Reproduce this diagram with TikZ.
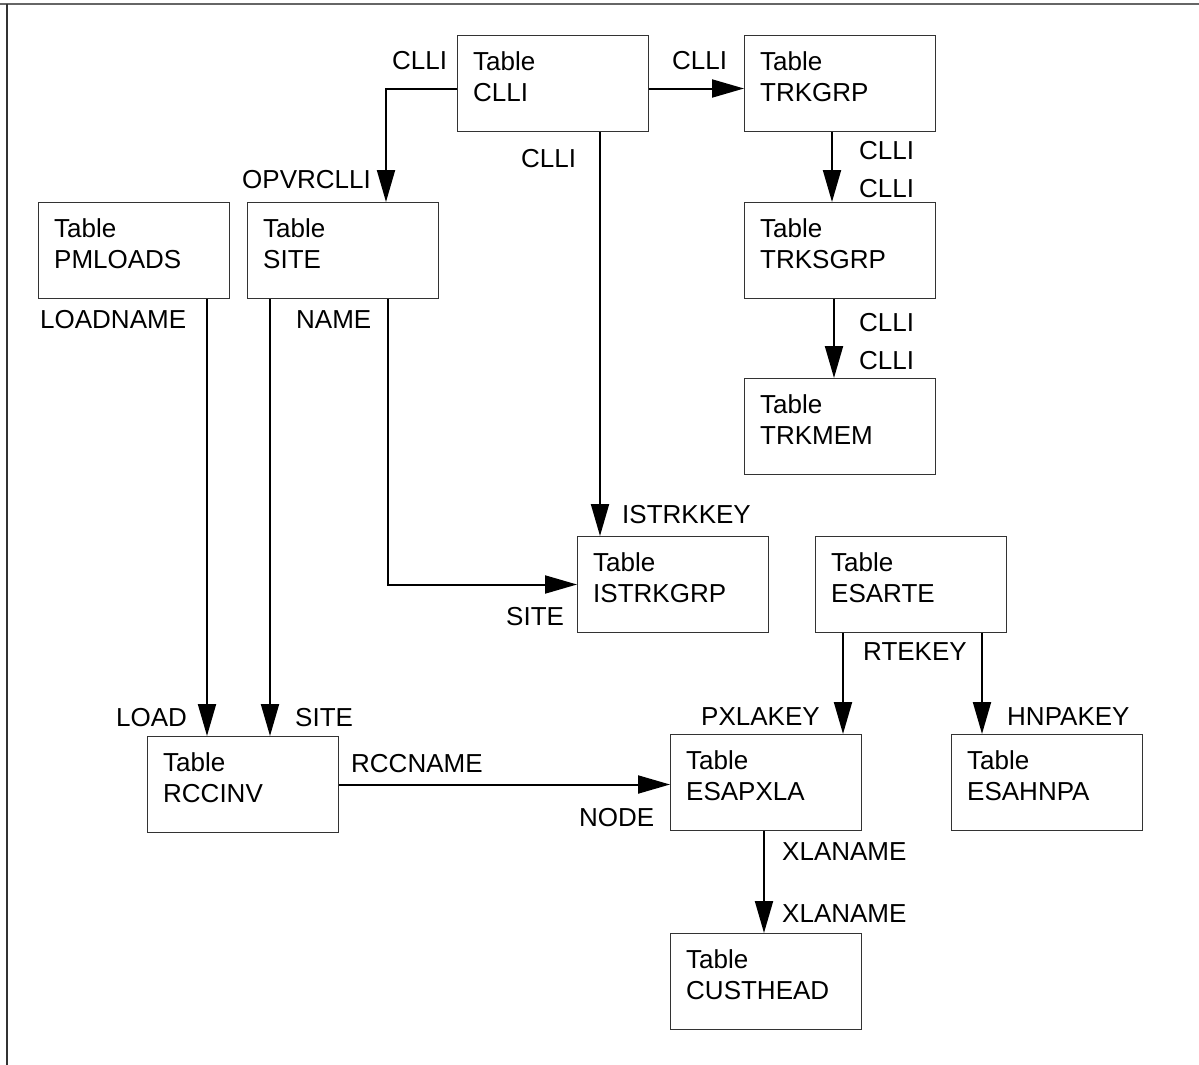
\documentclass[tikz,border=0pt]{standalone}
\usepackage{fontspec}
\setmainfont{Liberation Sans}
\usetikzlibrary{arrows.meta,calc}
\begin{document}
\begin{tikzpicture}[x=1pt,y=-1pt,
  tbox/.style={draw=black!80,line width=1pt,minimum width=191pt,minimum height=96pt,inner sep=0pt,anchor=north west},
  tbtext/.style={font=\fontsize{26}{31}\selectfont,align=left,inner sep=0pt,anchor=north west},
  lbl/.style={font=\fontsize{26}{31}\selectfont,inner sep=0pt,anchor=base west},
  conn/.style={line width=2pt,-{Triangle[length=32pt,width=18pt]}}]
\useasboundingbox (0,0) rectangle (1199,1065);
\draw[black!60,line width=2.5pt] (0,4) -- (1199,4);
\draw[black!80,line width=2pt] (7,4) -- (7,1065);
% boxes
\node[tbox] (clli) at (457,35) {};
\node[tbox] (trkgrp) at (744,35) {};
\node[tbox] (trksgrp) at (744,202) {};
\node[tbox] (trkmem) at (744,378) {};
\node[tbox] (pmloads) at (38,202) {};
\node[tbox] (site) at (247,202) {};
\node[tbox] (istrkgrp) at (577,536) {};
\node[tbox] (esarte) at (815,536) {};
\node[tbox] (rccinv) at (147,736) {};
\node[tbox] (esapxla) at (670,734) {};
\node[tbox] (esahnpa) at (951,734) {};
\node[tbox] (custhead) at (670,933) {};
% box texts
\node[tbtext] (tclli) at ($(clli.north west)+(16,16.5)$) {Table\\CLLI};
\node[tbtext] (ttrkgrp) at ($(trkgrp.north west)+(16,16.5)$) {Table\\TRKGRP};
\node[tbtext] (ttrksgrp) at ($(trksgrp.north west)+(16,16.5)$) {Table\\TRKSGRP};
\node[tbtext] (ttrkmem) at ($(trkmem.north west)+(16,16.5)$) {Table\\TRKMEM};
\node[tbtext] (tpmloads) at ($(pmloads.north west)+(16,16.5)$) {Table\\PMLOADS};
\node[tbtext] (tsite) at ($(site.north west)+(16,16.5)$) {Table\\SITE};
\node[tbtext] (tistrkgrp) at ($(istrkgrp.north west)+(16,16.5)$) {Table\\ISTRKGRP};
\node[tbtext] (tesarte) at ($(esarte.north west)+(16,16.5)$) {Table\\ESARTE};
\node[tbtext] (trccinv) at ($(rccinv.north west)+(16,16.5)$) {Table\\RCCINV};
\node[tbtext] (tesapxla) at ($(esapxla.north west)+(16,16.5)$) {Table\\ESAPXLA};
\node[tbtext] (tesahnpa) at ($(esahnpa.north west)+(16,16.5)$) {Table\\ESAHNPA};
\node[tbtext] (tcusthead) at ($(custhead.north west)+(16,16.5)$) {Table\\CUSTHEAD};
% connectors
\draw[conn] ([yshift=-5]clli.west) -| ([xshift=139]site.north west);
\draw[conn] ([yshift=-5]clli.east) -- ([yshift=-5]trkgrp.west);
\draw[conn] ([xshift=143]clli.south west) -- ([xshift=23]istrkgrp.north west);
\draw[conn] ([xshift=88]trkgrp.south west) -- ([xshift=88]trksgrp.north west);
\draw[conn] ([xshift=90]trksgrp.south west) -- ([xshift=90]trkmem.north west);
\draw[conn] ([xshift=141]site.south west) |- (istrkgrp.west);
\draw[conn] ([xshift=169]pmloads.south west) -- ([xshift=60]rccinv.north west);
\draw[conn] ([xshift=23]site.south west) -- ([xshift=123]rccinv.north west);
\draw[conn] (rccinv.east) -- (rccinv.east -| esapxla.west);
\draw[conn] ([xshift=28]esarte.south west) -- ([xshift=173]esapxla.north west);
\draw[conn] ([xshift=167]esarte.south west) -- ([xshift=31]esahnpa.north west);
\draw[conn] ([xshift=94]esapxla.south west) -- ([xshift=94]custhead.north west);
% labels
\node[lbl] (l1) at (392,70) {CLLI};
\node[lbl] (l2) at (672,70) {CLLI};
\node[lbl] (l3) at (521,167) {CLLI};
\node[lbl] (l4) at (242,188) {OPVRCLLI};
\node[lbl] (l5) at (859,159) {CLLI};
\node[lbl] (l6) at (859,197) {CLLI};
\node[lbl] (l7) at (859,331) {CLLI};
\node[lbl] (l8) at (859,369) {CLLI};
\node[lbl] (l9) at (40,328) {LOADNAME};
\node[lbl] (l10) at (296,328) {NAME};
\node[lbl] (l11) at (622,523) {ISTRKKEY};
\node[lbl] (l12) at (506,625) {SITE};
\node[lbl] (l13) at (863,660) {RTEKEY};
\node[lbl] (l14) at (116,726) {LOAD};
\node[lbl] (l15) at (295,726) {SITE};
\node[lbl] (l16) at (701,725) {PXLAKEY};
\node[lbl] (l17) at (1007,725) {HNPAKEY};
\node[lbl] (l18) at (351,772) {RCCNAME};
\node[lbl] (l19) at (579,826) {NODE};
\node[lbl] (l20) at (782,860) {XLANAME};
\node[lbl] (l21) at (782,922) {XLANAME};
\end{tikzpicture}
\end{document}
